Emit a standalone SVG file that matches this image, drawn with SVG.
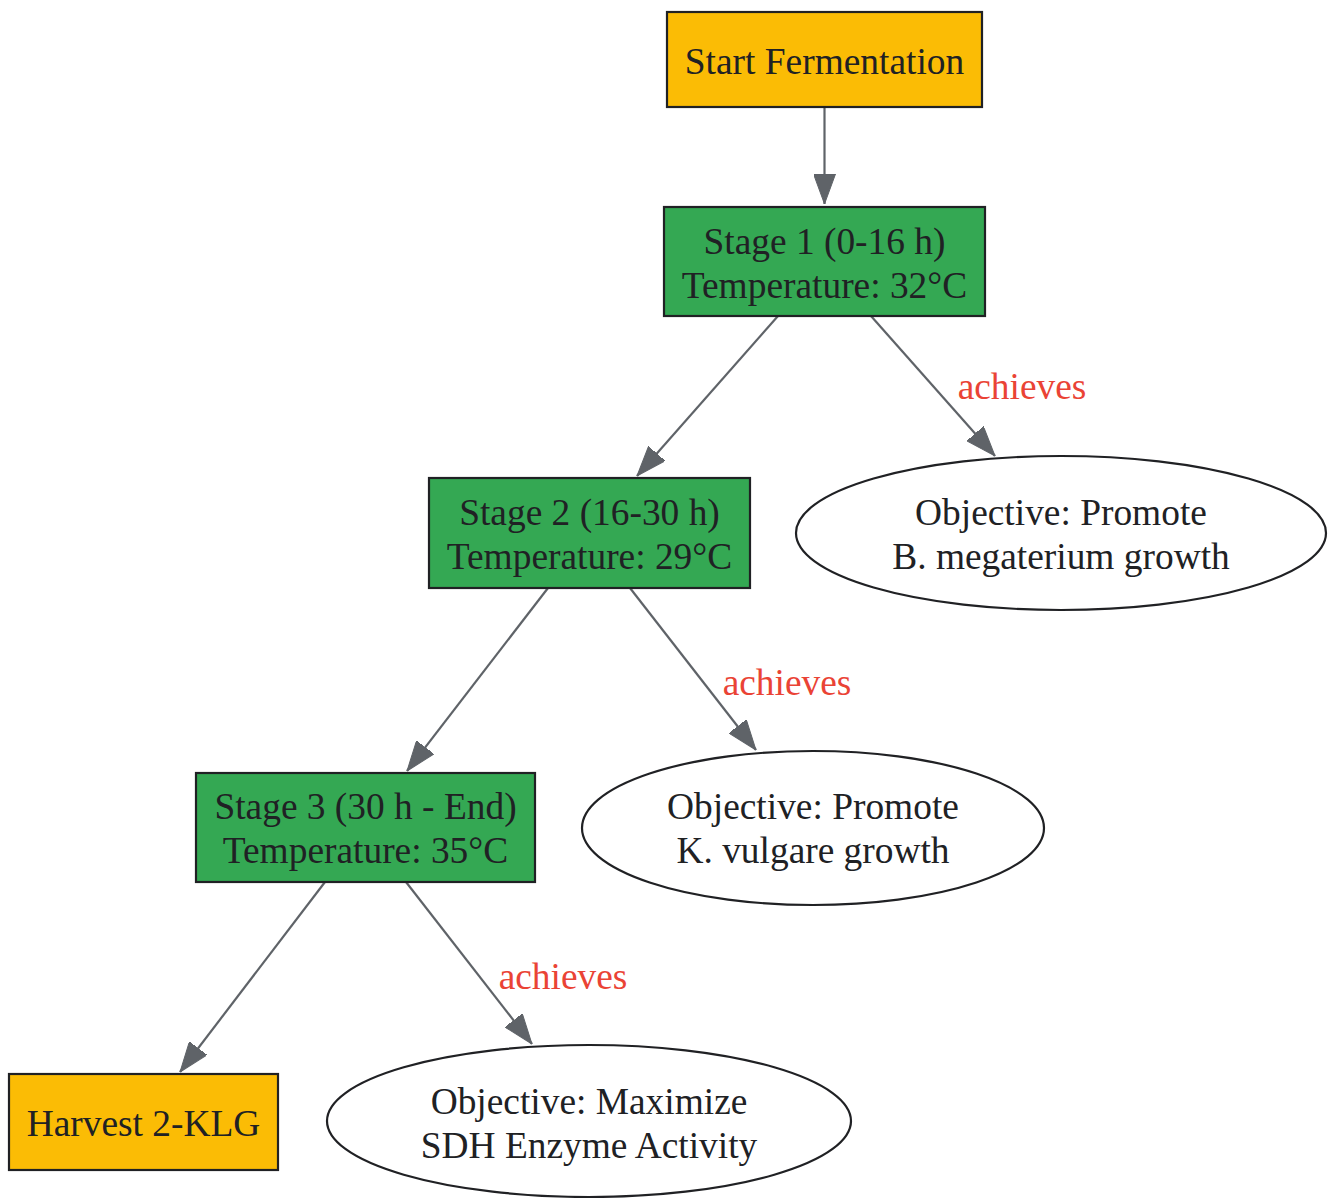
<svg xmlns="http://www.w3.org/2000/svg" width="1328" height="1198" viewBox="0 0 1328 1198">
<style>
.t{font-family:"Liberation Serif","Times New Roman",serif;font-size:37.4px;fill:#202124;text-anchor:middle}
.lbl{font-family:"Liberation Serif","Times New Roman",serif;font-size:37.4px;fill:#EA4335;text-anchor:middle}
.y{fill:#FBBC05;stroke:#202124;stroke-width:2.2}
.g{fill:#34A853;stroke:#202124;stroke-width:2.2}
.o{fill:#FFFFFF;stroke:#202124;stroke-width:2.2}
.e{stroke:#5F6368;stroke-width:2.2;fill:none;marker-end:url(#arr)}
</style>
<defs>
<marker id="arr" viewBox="0 0 30 22" refX="30" refY="11" markerWidth="30" markerHeight="22" markerUnits="userSpaceOnUse" orient="auto">
<path d="M0,0 L30,11 L0,22 z" fill="#5F6368" stroke="#5F6368" stroke-width="1"/>
</marker>
</defs>
<rect width="1328" height="1198" fill="#FFFFFF"/>
<g id="edges">
<line class="e" x1="824.5" y1="107" x2="824.5" y2="204"/>
<line class="e" x1="778" y1="316" x2="637" y2="476"/>
<line class="e" x1="871" y1="316" x2="995" y2="456"/>
<text class="lbl" x="1022" y="399">achieves</text>
<line class="e" x1="548" y1="588" x2="407" y2="771"/>
<line class="e" x1="630" y1="588" x2="756" y2="750"/>
<text class="lbl" x="787" y="695">achieves</text>
<line class="e" x1="325" y1="882" x2="180" y2="1072"/>
<line class="e" x1="406" y1="882" x2="532" y2="1044"/>
<text class="lbl" x="563" y="989">achieves</text>
</g>
<g id="start">
<rect class="y" x="667" y="12" width="315" height="95"/>
<text class="t" x="824.5" y="74">Start Fermentation</text>
</g>
<g id="stage1">
<rect class="g" x="664" y="207" width="321" height="109"/>
<text class="t" x="824.5" y="254">Stage 1 (0-16 h)</text>
<text class="t" x="824.5" y="298">Temperature: 32°C</text>
</g>
<g id="obj1">
<ellipse class="o" cx="1061" cy="533" rx="265" ry="77"/>
<text class="t" x="1061" y="525">Objective: Promote</text>
<text class="t" x="1061" y="569">B. megaterium growth</text>
</g>
<g id="stage2">
<rect class="g" x="429" y="478" width="321" height="110"/>
<text class="t" x="589.5" y="525">Stage 2 (16-30 h)</text>
<text class="t" x="589.5" y="569">Temperature: 29°C</text>
</g>
<g id="obj2">
<ellipse class="o" cx="813" cy="828" rx="231" ry="77"/>
<text class="t" x="813" y="819">Objective: Promote</text>
<text class="t" x="813" y="863">K. vulgare growth</text>
</g>
<g id="stage3">
<rect class="g" x="196" y="773" width="339" height="109"/>
<text class="t" x="365.5" y="819">Stage 3 (30 h - End)</text>
<text class="t" x="365.5" y="863">Temperature: 35°C</text>
</g>
<g id="harvest">
<rect class="y" x="9" y="1074" width="269" height="96"/>
<text class="t" x="143.5" y="1136">Harvest 2-KLG</text>
</g>
<g id="obj3">
<ellipse class="o" cx="589" cy="1121" rx="262" ry="76"/>
<text class="t" x="589" y="1114">Objective: Maximize</text>
<text class="t" x="589" y="1158">SDH Enzyme Activity</text>
</g>
</svg>
